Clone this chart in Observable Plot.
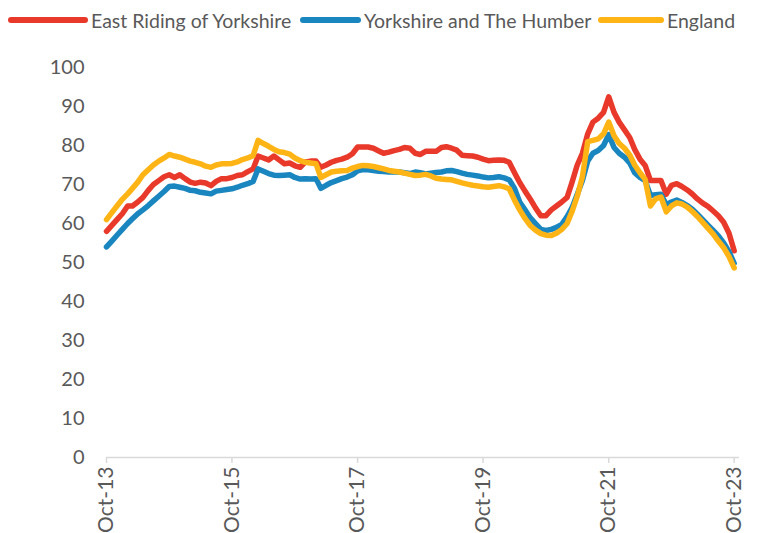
<!DOCTYPE html>
<html><head><meta charset="utf-8">
<script src="https://cdn.jsdelivr.net/npm/d3@7"></script>
<script src="https://cdn.jsdelivr.net/npm/@observablehq/plot@0.6"></script>
<style>
body{margin:0;background:#fff;overflow:hidden;font-family:Lato,sans-serif;}
#legend{position:relative;height:40px;width:758px;}
.item{position:absolute;top:0;height:40px;display:flex;align-items:center;font-size:19.5px;color:#595959;white-space:nowrap;}
.sw{height:6px;border-radius:3px;margin-right:3px;}
</style></head><body>
<div id="legend"></div><div id="chart"></div>
<script>
const seriesNames = ["East Riding of Yorkshire", "Yorkshire and The Humber", "England"];
const seriesColors = ["#E8392A", "#1A86C0", "#FDB414"];
const tickLabels = ["Oct-13", "Oct-15", "Oct-17", "Oct-19", "Oct-21", "Oct-23"];
const yTicks = [0, 10, 20, 30, 40, 50, 60, 70, 80, 90, 100];

// monthly values, Oct-13 .. Oct-23
const eastRiding = [
58, 59.5, 61, 62.5, 64.5, 64.5, 65.5, 66.7, 68.5, 70,
71, 72, 72.5, 71.8, 72.5, 71.5, 70.6, 70.3, 70.6, 70.4,
69.7, 70.8, 71.5, 71.5, 71.8, 72.3, 72.5, 73.3, 74, 77.3,
76.8, 76.3, 77.3, 76.3, 75.3, 75.5, 74.8, 74.4, 75.8, 76,
76, 74.4, 75, 75.7, 76.2, 76.5, 77, 77.9, 79.6, 79.6,
79.6, 79.3, 78.6, 78, 78.3, 78.7, 79, 79.5, 79.3, 78,
77.7, 78.5, 78.5, 78.5, 79.5, 79.7, 79.3, 78.8, 77.5, 77.4,
77.3, 77, 76.5, 76.1, 76.2, 76.3, 76.2, 75.7, 73, 70.5,
68.3, 66.3, 64, 62, 62, 63.5, 64.5, 65.5, 66.7, 70.5,
75, 78, 83, 86, 87, 88.5, 92.5, 88.5, 86, 84,
82, 79, 76.5, 74.9, 71, 71, 71, 67.5, 69.8, 70.2,
69.5, 68.6, 67.5, 66.3, 65.2, 64.4, 63.2, 62, 60.3, 57.5,
53];
const yorkshireHumber = [
54, 55.5, 57, 58.5, 60, 61.2, 62.5, 63.5, 64.6, 65.8,
67, 68.2, 69.5, 69.6, 69.3, 69, 68.5, 68.4, 68, 67.8,
67.6, 68.3, 68.5, 68.7, 68.9, 69.3, 69.8, 70.2, 70.8, 74,
73.4, 72.8, 72.4, 72.3, 72.4, 72.5, 71.8, 71.4, 71.5, 71.4,
71.5, 69, 69.8, 70.5, 71, 71.5, 71.9, 72.5, 73.5, 73.8,
73.8, 73.6, 73.4, 73.3, 73.2, 73.2, 73.2, 73, 72.8, 73.2,
73, 72.7, 72.9, 73.1, 73.2, 73.5, 73.6, 73.3, 72.9, 72.6,
72.4, 72.2, 71.9, 71.7, 71.8, 72, 71.7, 71.2, 69, 65.5,
63.5, 61.5, 60, 58.5, 58.2, 58.5, 59, 59.8, 61.8, 64,
67.5, 71, 76, 78, 78.7, 80, 82.8, 79.5, 78, 77,
75.5, 73, 71.8, 71, 67.2, 67.4, 67.5, 64.8, 65.5, 66,
65.4, 64.6, 63.6, 62.4, 61, 59.6, 58.2, 56.8, 55, 52.8,
49.8];
const england = [
61, 62.8, 64.5, 66.2, 67.6, 69, 70.6, 72.5, 73.8, 75,
76, 76.8, 77.7, 77.3, 77, 76.5, 76, 75.7, 75.3, 74.7,
74.4, 75, 75.3, 75.3, 75.4, 75.8, 76.4, 76.8, 77.4, 81.3,
80.5, 79.8, 79, 78.4, 78.2, 77.8, 76.8, 76.1, 75.7, 75.5,
75.3, 71.8, 72.5, 73.2, 73.4, 73.5, 73.6, 74.2, 74.6, 74.9,
74.8, 74.6, 74.3, 74, 73.6, 73.4, 73.2, 72.9, 72.6, 72.3,
72.4, 72.6, 72.2, 71.6, 71.4, 71.3, 71.2, 70.8, 70.4, 70.1,
69.8, 69.6, 69.4, 69.3, 69.5, 69.7, 69.4, 68.9, 66, 63.5,
61.3, 59.5, 58.3, 57.4, 57, 56.9, 57.5, 58.5, 60, 63,
67, 72, 81, 81.3, 81.7, 83, 86, 82.5, 80.5, 79.3,
77.5, 75, 73, 71.3, 64.5, 66.3, 66.8, 63, 64.5, 65.3,
65, 64.2, 63, 61.8, 60.3, 58.8, 57.3, 55.5, 53.8, 51.5,
48.6];

const fmt = d3.utcFormat("%b-%y");
const parse = d3.utcParse("%b-%y");
const start = parse("Oct-13");
const months = eastRiding.map((_, i) => d3.utcMonth.offset(start, i));
const tickDates = tickLabels.map(parse);
const allValues = [eastRiding, yorkshireHumber, england];
const data = [];
allValues.forEach((vals, s) => vals.forEach((v, i) => data.push({date: months[i], value: v, series: seriesNames[s]})));

// legend
const legendPos = [[8, 80], [300, 61], [598, 66]];
const leg = document.getElementById("legend");
seriesNames.forEach((n, i) => {
  const it = document.createElement("div");
  it.className = "item";
  it.style.left = legendPos[i][0] + "px";
  it.innerHTML = `<span class="sw" style="width:${legendPos[i][1]}px;background:${seriesColors[i]}"></span><span>${n}</span>`;
  leg.appendChild(it);
});

const chart = Plot.plot({
  width: 758, height: 493,
  marginTop: 27, marginBottom: 76, marginLeft: 106, marginRight: 19,
  style: {fontFamily: "Lato, sans-serif", fontSize: "20px", background: "white", overflow: "visible"},
  x: {type: "utc", domain: [start, d3.utcMonth.offset(start, 121)]},
  y: {domain: [0, 100]},
  color: {domain: seriesNames, range: seriesColors},
  marks: [
    Plot.axisY({ticks: yTicks, tickSize: 0, tickPadding: 22, fill: "#595959", label: null}),
    Plot.ruleY([0], {stroke: "#d9d9d9", strokeWidth: 1.5}),
    Plot.axisX({ticks: tickDates, tickSize: 6, stroke: "#d9d9d9", strokeWidth: 1.5, text: null, label: null}),
    Plot.axisX({ticks: tickDates, tickSize: 0, tickPadding: 9, tickRotate: -90, tickFormat: fmt, fill: "#595959", fontSize: 21, label: null}),
    Plot.lineY(data, {x: "date", y: "value", z: "series", stroke: "series", strokeWidth: 5.5, strokeLinejoin: "round", strokeLinecap: "round"})
  ]
});
document.getElementById("chart").appendChild(chart);
</script>
</body></html>
